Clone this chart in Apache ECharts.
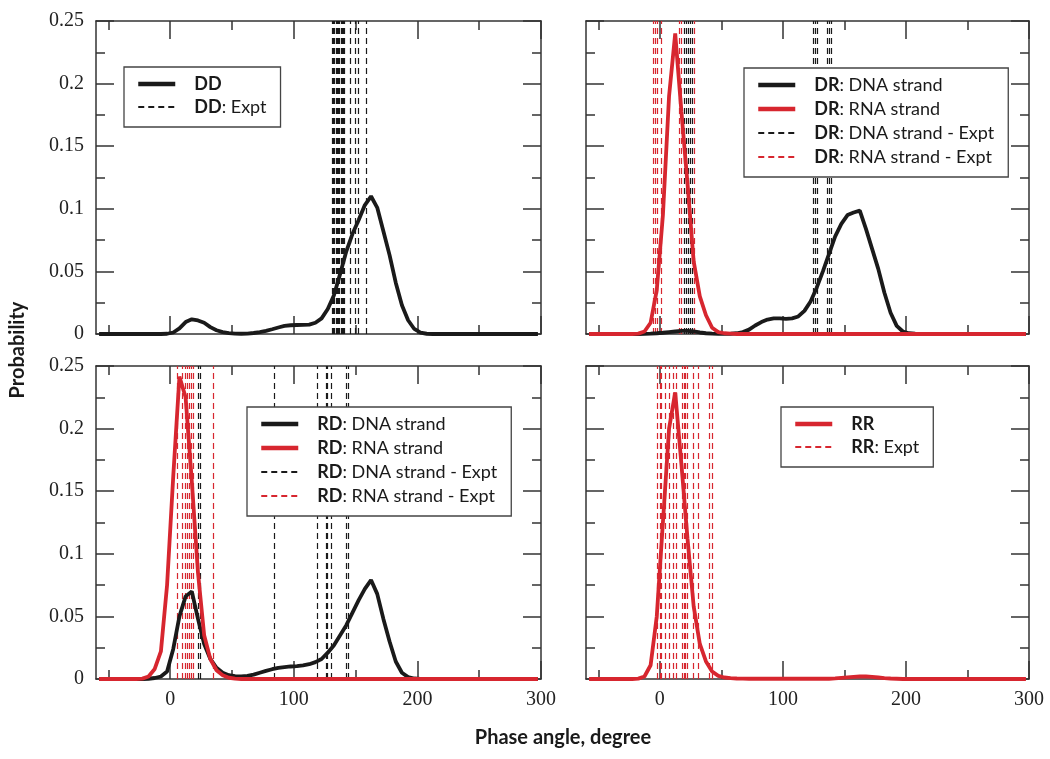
<!DOCTYPE html>
<html>
<head>
<meta charset="utf-8">
<script src="https://cdn.jsdelivr.net/npm/echarts@6/dist/echarts.min.js"></script>
<style>html,body{margin:0;padding:0;background:#fff;}#c{width:1050px;height:759px;}</style>
</head>
<body>
<div id="c"></div>
<script>
// Phase-angle bin centres (degree)
const ANGLES = [-57.5,-52.5,-47.5,-42.5,-37.5,-32.5,-27.5,-22.5,-17.5,-12.5,-7.5,-2.5,
  2.5,7.5,12.5,17.5,22.5,27.5,32.5,37.5,42.5,47.5,52.5,57.5,
  62.5,67.5,72.5,77.5,82.5,87.5,92.5,97.5,102.5,107.5,112.5,117.5,
  122.5,127.5,132.5,137.5,142.5,147.5,152.5,157.5,162.5,167.5,172.5,177.5,
  182.5,187.5,192.5,197.5,202.5,207.5,212.5,217.5,222.5,227.5,232.5,237.5,
  242.5,247.5,252.5,257.5,262.5,267.5,272.5,277.5,282.5,287.5,292.5,297.5];

const DD = [0,0,0,0,0,0,0,0,0,0,0,0.0002,
  0.0012,0.0045,0.0095,0.0117,0.0108,0.0090,0.0055,0.0030,0.0015,0.0007,0.0003,0.0002,
  0.0003,0.0008,0.0015,0.0025,0.0038,0.0052,0.0065,0.0070,0.0072,0.0073,0.0075,0.0090,
  0.0125,0.020,0.031,0.048,0.066,0.080,0.091,0.103,0.110,0.101,0.082,0.063,
  0.041,0.023,0.011,0.004,0.001,0.0002,0,0,0,0,0,0,
  0,0,0,0,0,0,0,0,0,0,0,0];

const DR_DNA = [0,0,0,0,0,0,0,0,0,0.0001,0.0003,0.0006,
  0.0010,0.0015,0.0020,0.0025,0.0025,0.0020,0.0012,0.0006,0.0003,0.0001,0.0001,0.0002,
  0.0006,0.0015,0.0035,0.0068,0.0095,0.0115,0.0125,0.0124,0.0121,0.0125,0.0140,0.0185,
  0.026,0.037,0.050,0.064,0.078,0.088,0.095,0.097,0.0985,0.084,0.068,0.052,
  0.033,0.017,0.0065,0.002,0.0006,0.0002,0,0,0,0,0,0,
  0,0,0,0,0,0,0,0,0,0,0,0];

const DR_RNA = [0,0,0,0,0,0,0,0,0.0003,0.002,0.009,0.035,
  0.095,0.190,0.240,0.178,0.120,0.058,0.030,0.015,0.005,0.0015,0.0006,0.0003,
  0,0,0,0,0,0,0,0,0,0,0,0,
  0,0,0,0,0,0,0,0,0,0,0,0,
  0,0,0,0,0,0,0,0,0,0,0,0,
  0,0,0,0,0,0,0,0,0,0,0,0];

const RD_DNA = [0,0,0,0,0,0,0,0,0.0002,0.0008,0.002,0.006,
  0.024,0.050,0.066,0.070,0.048,0.028,0.016,0.009,0.005,0.003,0.0022,0.0020,
  0.0025,0.0035,0.0050,0.0065,0.0078,0.0088,0.0095,0.0100,0.0103,0.0108,0.0118,0.0135,
  0.016,0.021,0.027,0.035,0.043,0.053,0.063,0.072,0.079,0.068,0.048,0.030,
  0.014,0.005,0.0015,0.0004,0,0,0,0,0,0,0,0,
  0,0,0,0,0,0,0,0,0,0,0,0];

const RD_RNA = [0,0,0,0,0,0,0,0.0003,0.002,0.008,0.022,0.075,
  0.162,0.2415,0.225,0.158,0.085,0.035,0.016,0.007,0.003,0.001,0.0003,0,
  0,0,0,0,0,0,0,0,0,0,0,0,
  0,0,0,0,0,0,0,0,0,0,0,0,
  0,0,0,0,0,0,0,0,0,0,0,0,
  0,0,0,0,0,0,0,0,0,0,0,0];

const RR = [0,0,0,0,0,0,0,0,0.0003,0.002,0.011,0.050,
  0.125,0.200,0.229,0.172,0.112,0.058,0.028,0.014,0.006,0.0025,0.0012,0.0007,
  0.0004,0.0003,0.0002,0.0002,0.0002,0.0002,0.0002,0.0002,0.0002,0.0002,0.0002,0.0002,
  0.0002,0.0002,0.0002,0.0002,0.0005,0.0009,0.0013,0.0017,0.0020,0.0020,0.0017,0.0012,
  0.0007,0.0004,0.0002,0,0,0,0,0,0,0,0,0,
  0,0,0,0,0,0,0,0,0,0,0,0];

// Experimental phase angles (vertical dashed lines)
const DD_EXPT = [131,132,133,134,135,136,137,138,139,140,141,146,149.5,152,158.5];
const DR_DNA_EXPT = [20,21.5,23,24.5,26,124.5,126.3,128,136,138,139.5];
const DR_RNA_EXPT = [-5.5,-3.5,-1.7,1.1,16,17.5,28];
const RD_DNA_EXPT = [22.5,24,84,119,126,127.4,130,142.8,144];
const RD_RNA_EXPT = [6,10,12,14,15.5,17.2,19,35];
const RR_EXPT = [-2,0,1.5,4,7.5,10.5,13.5,18,19.5,21,22.5,27,31,40.5,42.5];

const X_MAJOR = [0,100,200,300];
const X_MINOR = [-50,50,150,250];

const BLACK = '#1a1a1a', RED = '#d7262f', AXIS = '#333';
const SERIF = 'Liberation Serif', SANS = 'Lato';

const panels = [
  {left:96, top:21, width:445, labelX:false, labelY:true},
  {left:586, top:21, width:443, labelX:false, labelY:false},
  {left:96, top:366, width:445, labelX:true, labelY:true},
  {left:586, top:366, width:443, labelX:true, labelY:false}
];
const H = 313;

const grid = [], xAxis = [], yAxis = [];
panels.forEach(p => { grid.push({left:p.left, top:p.top, width:p.width, height:H}); });
panels.forEach(p => { grid.push({left:p.left, top:p.top, width:p.width, height:H}); });

const lineSt = {color:AXIS, width:1.5};
panels.forEach((p, i) => {
  ['bottom','top'].forEach(pos => {
    xAxis.push({gridIndex:i, type:'value', min:-60, max:300, position:pos,
      axisLine:{show:true, onZero:false, lineStyle:lineSt},
      axisTick:{show:true, inside:true, length:18, customValues:X_MAJOR, lineStyle:lineSt},
      axisLabel:{show:(pos==='bottom' && p.labelX), customValues:X_MAJOR, margin:11,
        fontFamily:SERIF, fontSize:20, color:'#222'},
      splitLine:{show:false}});
  });
  ['left','right'].forEach(pos => {
    yAxis.push({gridIndex:i, type:'value', min:0, max:0.25, interval:0.05, position:pos,
      axisLine:{show:true, onZero:false, lineStyle:lineSt},
      axisTick:{show:true, inside:true, length:18, lineStyle:lineSt},
      minorTick:{show:true, splitNumber:2, length:9, lineStyle:lineSt},
      axisLabel:{show:(pos==='left' && p.labelY), margin:12, fontFamily:SERIF, fontSize:20, color:'#222'},
      splitLine:{show:false}, minorSplitLine:{show:false}});
  });
});
panels.forEach((p, i) => {
  ['bottom','top'].forEach(pos => {
    xAxis.push({gridIndex:4+i, type:'value', min:-60, max:300, position:pos,
      axisLine:{show:false},
      axisTick:{show:true, inside:true, length:9, customValues:X_MINOR, lineStyle:lineSt},
      axisLabel:{show:false}, splitLine:{show:false}});
  });
  yAxis.push({gridIndex:4+i, type:'value', min:0, max:0.25, show:false});
});

const pairs = vals => ANGLES.map((a, k) => [a, vals[k]]);
const curve = (name, vals, color, i) => ({
  type:'line', name, data:pairs(vals), xAxisIndex:2*i, yAxisIndex:2*i,
  symbol:'none', color, lineStyle:{width:3.8, color}, z:5, animation:false
});
const expt = (name, arr, color, i) => ({
  type:'line', name, data:[], xAxisIndex:2*i, yAxisIndex:2*i, symbol:'none', color,
  lineStyle:{type:[6,4], width:1.2, color}, z:2, animation:false,
  markLine:{silent:true, symbol:'none', animation:false, label:{show:false},
    lineStyle:{type:[6,4], width:1.2, color}, data:arr.map(v => ({xAxis:v}))}
});

const series = [
  expt('DD: Expt', DD_EXPT, BLACK, 0),
  curve('DD', DD, BLACK, 0),
  expt('DR: DNA strand - Expt', DR_DNA_EXPT, BLACK, 1),
  expt('DR: RNA strand - Expt', DR_RNA_EXPT, RED, 1),
  curve('DR: DNA strand', DR_DNA, BLACK, 1),
  curve('DR: RNA strand', DR_RNA, RED, 1),
  expt('RD: DNA strand - Expt', RD_DNA_EXPT, BLACK, 2),
  expt('RD: RNA strand - Expt', RD_RNA_EXPT, RED, 2),
  curve('RD: DNA strand', RD_DNA, BLACK, 2),
  curve('RD: RNA strand', RD_RNA, RED, 2),
  expt('RR: Expt', RR_EXPT, RED, 3),
  curve('RR', RR, RED, 3)
];

const fmt = name => {
  const k = name.indexOf(':');
  return k < 0 ? '{sp|}{b|' + name + '}' : '{sp|}{b|' + name.slice(0, k) + '}{t|' + name.slice(k) + '}';
};
const item = name => (name.indexOf('Expt') >= 0 ? {name} : {name, lineStyle:{width:4.5}});
const mkLegend = (left, top, names, gap) => ({
  orient:'vertical', left, top, data:names.map(item), selectedMode:false, z:10,
  backgroundColor:'#fff',
  borderColor:'#444', borderWidth:1.3, padding:[8,14,11,12],
  itemWidth:37, itemHeight:14, itemGap:gap,
  itemStyle:{color:'rgba(0,0,0,0)', borderColor:'rgba(0,0,0,0)', borderWidth:0, opacity:0},
  formatter:fmt,
  textStyle:{fontFamily:SANS, fontSize:18, color:BLACK,
    rich:{
      sp:{width:14},
      b:{fontFamily:SANS, fontSize:18, fontWeight:'bold', color:BLACK},
      t:{fontFamily:SANS, fontSize:18, color:BLACK}
    }}
});

const legend = [
  mkLegend(124, 67, ['DD','DD: Expt'], 5),
  mkLegend(744, 68, ['DR: DNA strand','DR: RNA strand','DR: DNA strand - Expt','DR: RNA strand - Expt'], 6),
  mkLegend(247, 407, ['RD: DNA strand','RD: RNA strand','RD: DNA strand - Expt','RD: RNA strand - Expt'], 6),
  mkLegend(781, 407, ['RR','RR: Expt'], 5)
];

const chart = echarts.init(document.getElementById('c'), null, {renderer:'canvas'});
chart.setOption({
  animation:false,
  backgroundColor:'#fff',
  grid, xAxis, yAxis, series, legend,
  graphic:[
    {type:'text', x:18, y:350, rotation:Math.PI/2,
      style:{text:'Probability', font:'bold 20px Lato', fill:BLACK, align:'center', verticalAlign:'middle'}},
    {type:'text', x:563, y:738,
      style:{text:'Phase angle, degree', font:'bold 20px Lato', fill:BLACK, align:'center', verticalAlign:'middle'}}
  ]
});
</script>
</body>
</html>
